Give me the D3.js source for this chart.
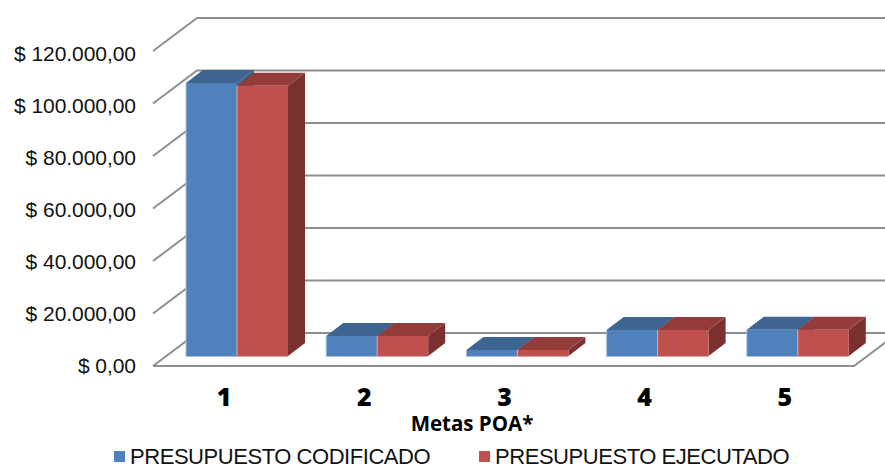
<!DOCTYPE html>
<html>
<head>
<meta charset="utf-8">
<script src="https://d3js.org/d3.v7.min.js"></script>
<style>
  html, body { margin: 0; padding: 0; background: #fff; }
  svg { display: block; }
</style>
</head>
<body>
<div id="my_dataviz"></div>
<script>
// data
var metas = ["1", "2", "3", "4", "5"];
var codificado = [104000, 7600, 2300, 9900, 10000];
var ejecutado = [103000, 7600, 2300, 9900, 10000];
var seriesNames = ["PRESUPUESTO CODIFICADO", "PRESUPUESTO EJECUTADO"];
var yTicks = [0, 20000, 40000, 60000, 80000, 100000, 120000];

var width = 885, height = 464;

// front edge of the floor, and how far the back wall is shifted
var floorLeft = 153, floorRight = 854, floorY = 366, topY = 51;
var wallDx = 44, wallDy = -33;
// bars stand a bit inside the floor and have their own depth
var barDx = 17, barDy = -13, barBaseUp = 10;

var svg = d3.select("#my_dataviz")
  .append("svg")
  .attr("width", width)
  .attr("height", height);

var x = d3.scaleBand()
  .domain(metas)
  .range([floorLeft, floorRight]);

var y = d3.scaleLinear()
  .domain([0, 120000])
  .range([floorY, topY]);

// the tick labels are spaced a little tighter than the gridlines
var yLabels = d3.scaleLinear()
  .domain([0, 120000])
  .range([366, 54]);

var line = d3.line();

// walls
var gridColor = "#8e8e8e";
svg.selectAll(".wall")
  .data(yTicks)
  .enter()
  .append("path")
  .attr("class", "wall")
  .attr("fill", "none")
  .attr("stroke", gridColor)
  .attr("stroke-width", 2)
  .attr("d", function (d) {
    return line([
      [floorLeft, y(d)],
      [floorLeft + wallDx, y(d) + wallDy],
      [floorRight + wallDx, y(d) + wallDy]
    ]);
  });

// front and right edge of the floor
svg.append("path")
  .attr("fill", "none")
  .attr("stroke", gridColor)
  .attr("stroke-width", 2)
  .attr("d", line([
    [floorLeft, y(0)],
    [floorRight, y(0)],
    [floorRight + wallDx, y(0) + wallDy]
  ]));

// y axis, only the labels
var fmt = d3.formatLocale({
  decimal: ",", thousands: ".", grouping: [3], currency: ["$ ", ""]
}).format("$,.2f");

var yAxis = svg.append("g")
  .attr("transform", "translate(136,0)")
  .call(d3.axisLeft(yLabels).tickValues(yTicks).tickSize(0).tickPadding(0).tickFormat(fmt));
yAxis.select(".domain").remove();
yAxis.selectAll("text")
  .attr("font-family", "'Liberation Sans', Arial, sans-serif")
  .attr("font-size", 21)
  .attr("letter-spacing", -0.05)
  .attr("fill", "#111");

// bars
var band = 51;
var seriesInfo = [
  { values: codificado, offset: 33, front: "#4f81bd", top: "#3e6491", side: "#3a5f8a", edge: "#a9c1de" },
  { values: ejecutado, offset: 33 + band, front: "#c0504d", top: "#933c3a", side: "#7a302f", edge: "#dfa9a7" }
];

seriesInfo.forEach(function (s) {
  var g = svg.append("g");
  var rows = metas.map(function (m, i) {
    var x0 = x(m) + s.offset;
    return { x0: x0, x1: x0 + band, base: y(0) - barBaseUp, top: y(s.values[i]) - barBaseUp };
  });

  g.selectAll(".side").data(rows).enter().append("path")
    .attr("fill", s.side)
    .attr("d", function (d) {
      return line([[d.x1, d.base], [d.x1 + barDx, d.base + barDy], [d.x1 + barDx, d.top + barDy], [d.x1, d.top]]) + "Z";
    });

  g.selectAll(".top").data(rows).enter().append("path")
    .attr("fill", s.top)
    .attr("d", function (d) {
      return line([[d.x0, d.top], [d.x0 + barDx, d.top + barDy], [d.x1 + barDx, d.top + barDy], [d.x1, d.top]]) + "Z";
    });

  g.selectAll(".front").data(rows).enter().append("path")
    .attr("fill", s.front)
    .attr("d", function (d) {
      return line([[d.x0, d.base], [d.x0, d.top], [d.x1, d.top], [d.x1, d.base]]) + "Z";
    });

  // pale rim under and beside the front face
  g.selectAll(".rim").data(rows).enter().append("path")
    .attr("fill", "none")
    .attr("stroke", s.edge)
    .attr("stroke-width", 1)
    .attr("d", function (d) {
      return line([[d.x0, d.top], [d.x0, d.base + 0.5], [d.x1, d.base + 0.5]]);
    });
});

// category labels
var xAxis = svg.append("g")
  .attr("transform", "translate(1,388)")
  .call(d3.axisBottom(x).tickSize(0).tickPadding(0));
xAxis.select(".domain").remove();
xAxis.selectAll("text")
  .attr("font-family", "'Open Sans', sans-serif")
  .attr("font-weight", 800)
  .attr("font-size", 25)
  .attr("fill", "#000");

svg.append("text")
  .attr("x", 472)
  .attr("y", 431)
  .attr("text-anchor", "middle")
  .attr("font-family", "'Open Sans', sans-serif")
  .attr("font-weight", 700)
  .attr("font-size", 20.5)
  .attr("fill", "#000")
  .text("Metas POA*");

// legend
var legendX = [114, 479];
var legendColors = ["#4f81bd", "#c0504d"];
seriesNames.forEach(function (name, i) {
  svg.append("rect")
    .attr("x", legendX[i])
    .attr("y", 451)
    .attr("width", 11)
    .attr("height", 11)
    .attr("fill", legendColors[i]);
  svg.append("text")
    .attr("x", legendX[i] + 16)
    .attr("y", 463.5)
    .attr("font-family", "'Liberation Sans', Arial, sans-serif")
    .attr("font-size", 22)
    .attr("letter-spacing", -0.45)
    .attr("fill", "#111")
    .text(name);
});
</script>
</body>
</html>
